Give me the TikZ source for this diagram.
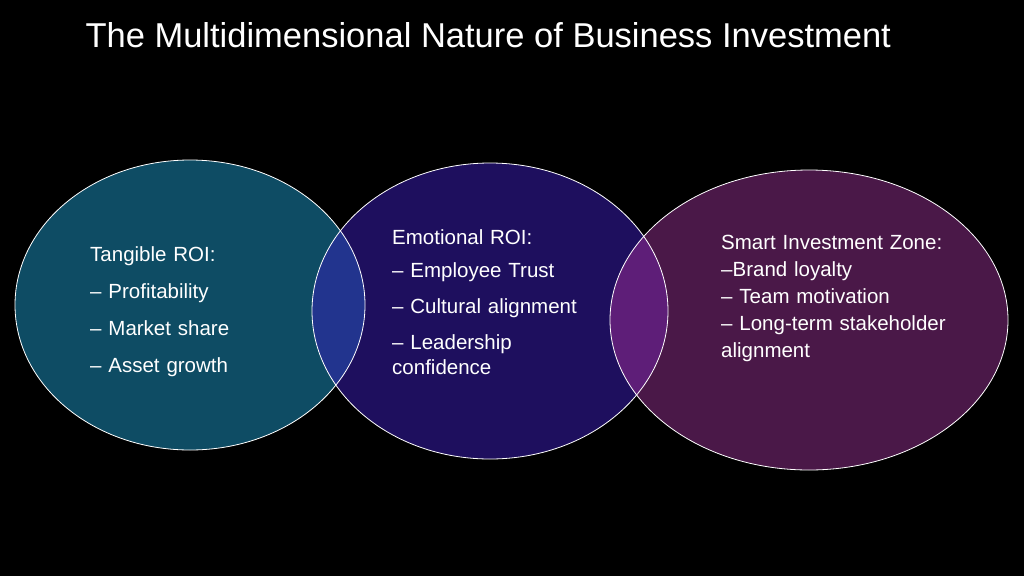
\documentclass[tikz,border=0pt]{standalone}
\usepackage{fontspec}
\setmainfont{Liberation Sans}
\definecolor{tealroi}{HTML}{0E4C64}
\definecolor{indigoroi}{HTML}{1E0F5E}
\definecolor{plumroi}{HTML}{4A1848}
\definecolor{blueover}{HTML}{22348E}
\definecolor{violetover}{HTML}{5E1E78}
\tikzset{
  zone/.style={draw=white, line width=0.8pt},
  label/.style={text=white, font=\fontsize{20.5}{27}\selectfont, anchor=north west, align=left, inner sep=0pt}
}
\begin{document}
\begin{tikzpicture}[x=1pt,y=-1pt]
\fill[black] (0,0) rectangle (1024,576);
\useasboundingbox (0,0) rectangle (1024,576);

\node[text=white, font=\fontsize{34.5}{40}\selectfont, anchor=west] (title) at (82,35) {The Multidimensional Nature of Business Investment};

% circles
\fill[tealroi] (190,305) ellipse (175 and 145);
\fill[indigoroi] (490,311) ellipse (178 and 148);
\fill[plumroi] (809,320) ellipse (199 and 150);
% overlaps
\begin{scope}
  \clip (190,305) ellipse (175 and 145);
  \fill[blueover] (490,311) ellipse (178 and 148);
\end{scope}
\begin{scope}
  \clip (490,311) ellipse (178 and 148);
  \fill[violetover] (809,320) ellipse (199 and 150);
\end{scope}
\draw[zone] (190,305) ellipse (175 and 145);
\draw[zone] (490,311) ellipse (178 and 148);
\draw[zone] (809,320) ellipse (199 and 150);

\node[label, text width=250pt] (tangible) at (90,246) {Tangible ROI:\\[10pt]-- Profitability\\[10pt]-- Market share\\[10pt]-- Asset growth};
\node[label, text width=230pt] (emotional) at (392,229) {Emotional ROI:\\[6pt]-- Employee Trust\\[9pt]-- Cultural alignment\\[9pt]-- Leadership\\[-2pt]confidence};
\node[label, text width=280pt] (smart) at (721,235) {Smart Investment Zone:\\--Brand loyalty\\-- Team motivation\\-- Long-term stakeholder\\alignment};
\end{tikzpicture}
\end{document}
